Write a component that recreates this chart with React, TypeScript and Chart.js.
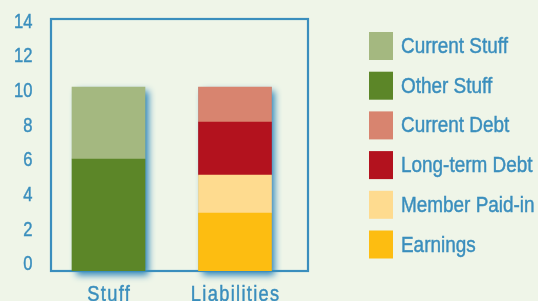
import { useEffect, useRef } from 'react';
import { Chart, registerables } from 'chart.js';

Chart.register(...registerables);

// ---- data ----
const categories = ['Stuff', 'Liabilities'];
const seriesNames = ['Current Stuff', 'Other Stuff', 'Current Debt', 'Long-term Debt', 'Member Paid-in', 'Earnings'];
const currentStuff = [4.0, null];
const otherStuff = [6.22, null];
const currentDebt = [null, 1.94];
const longTermDebt = [null, 2.95];
const memberPaidIn = [null, 2.11];
const earnings = [null, 3.22];
const yTicks = [0, 2, 4, 6, 8, 10, 12, 14];

// ---- styles ----
const seriesColors = ['#a4b880', '#5c8628', '#d8846f', '#b3121e', '#fedb8f', '#fdbd11'];
const stackOrder = [1, 0, 3, 2, 1, 0];
const BLUE = '#3a8ebd';
const BG = '#eff5e8';
const FAMILY = '"Liberation Sans", Arial, sans-serif';
const NARROW = 0.83; // horizontal squeeze to imitate a condensed face
const WEIGHT = 0.45; // extra stroke to imitate a medium weight

const seriesValues = [currentStuff, otherStuff, currentDebt, longTermDebt, memberPaidIn, earnings];

function heavyText(ctx: CanvasRenderingContext2D, text: string, x: number, y: number) {
  ctx.fillText(text, x, y);
  ctx.lineWidth = WEIGHT;
  ctx.strokeStyle = ctx.fillStyle as string;
  ctx.strokeText(text, x, y);
}

const boxAndShadowPlugin = {
  id: 'boxAndShadow',
  beforeDatasetsDraw(chart: any) {
    const ctx = chart.ctx;
    const groups = new Map<number, { l: number; r: number; t: number; b: number }>();
    chart.getSortedVisibleDatasetMetas().forEach((meta: any) => {
      meta.data.forEach((el: any) => {
        const { x, y, base, width } = el.getProps(['x', 'y', 'base', 'width'], true);
        if (!isFinite(y) || !isFinite(x)) return;
        const key = Math.round(x);
        const g = groups.get(key) || { l: x - width / 2, r: x + width / 2, t: Infinity, b: -Infinity };
        g.t = Math.min(g.t, y, base);
        g.b = Math.max(g.b, y, base);
        groups.set(key, g);
      });
    });
    ctx.save();
    ctx.shadowColor = 'rgba(40,130,185,1)';
    ctx.shadowBlur = 7;
    ctx.shadowOffsetX = 4;
    ctx.shadowOffsetY = 4;
    ctx.fillStyle = BLUE;
    groups.forEach((g) => {
      ctx.fillRect(g.l, g.t, g.r - g.l, g.b - g.t);
    });
    ctx.restore();
    const a = chart.chartArea;
    ctx.save();
    ctx.strokeStyle = BLUE;
    ctx.lineWidth = 2.2;
    ctx.strokeRect(a.left, a.top, a.right - a.left, a.bottom - a.top);
    ctx.restore();
  },
};

const labelsPlugin = {
  id: 'labelsAndLegend',
  afterDraw(chart: any) {
    const ctx = chart.ctx;
    const a = chart.chartArea;
    const xs = chart.scales.x;
    const yl = chart.scales.yl;

    // y tick labels (positions from the label scale)
    ctx.save();
    ctx.scale(NARROW, 1);
    ctx.font = `20px ${FAMILY}`;
    ctx.fillStyle = BLUE;
    ctx.textAlign = 'right';
    ctx.textBaseline = 'middle';
    yl.ticks.forEach((t: any) => {
      const text = t.label != null && t.label !== '' ? String(t.label) : String(t.value);
      heavyText(ctx, text, (a.left - 18.5) / NARROW, yl.getPixelForValue(t.value));
    });
    ctx.restore();

    // x category labels
    ctx.save();
    ctx.scale(NARROW, 1);
    ctx.font = `22px ${FAMILY}`;
    ctx.fillStyle = BLUE;
    ctx.textAlign = 'center';
    ctx.textBaseline = 'alphabetic';
    (ctx as any).letterSpacing = '1.6px';
    categories.forEach((c, i) => {
      heavyText(ctx, c, (xs.getPixelForValue(i) + 0.7) / NARROW, a.bottom + 29.75);
    });
    ctx.restore();

    // legend
    const bx = a.right + 61;
    const sx = 0.86;
    chart.data.datasets.forEach((ds: any, i: number) => {
      const by = a.top + 13 + i * 39.7;
      ctx.save();
      ctx.fillStyle = ds.backgroundColor;
      ctx.fillRect(bx, by, 24, 28);
      ctx.scale(sx, 1);
      ctx.font = `22px ${FAMILY}`;
      ctx.textAlign = 'left';
      ctx.textBaseline = 'middle';
      ctx.fillStyle = BLUE;
      heavyText(ctx, ds.label, (bx + 32) / sx, by + 15);
      ctx.restore();
    });
  },
};

export default function App() {
  const ref = useRef<HTMLCanvasElement | null>(null);
  useEffect(() => {
    if (!ref.current) return;
    const datasets = seriesNames.map((name, i) => ({
      label: name,
      data: categories
        .map((_, ci) => ({ x: ci, y: seriesValues[i][ci] }))
        .filter((p) => p.y !== null),
      backgroundColor: seriesColors[i],
      borderWidth: 0,
      order: stackOrder[i],
      barThickness: 73,
    }));
    const chart = new Chart(ref.current, {
      type: 'bar',
      data: { datasets } as any,
      options: {
        animation: false,
        responsive: false,
        events: [],
        layout: { padding: { top: 19, right: 230, bottom: 30, left: 0 } },
        plugins: { legend: { display: false }, tooltip: { enabled: false } },
        scales: {
          x: {
            type: 'linear',
            display: false,
            offset: false,
            grid: { offset: false },
            min: -0.4545,
            max: 1.5771,
            stacked: true,
          },
          y: {
            type: 'linear',
            display: false,
            stacked: true,
            min: 0,
            max: 14,
          },
          yl: {
            type: 'linear',
            position: 'left',
            display: true,
            min: -0.363,
            max: 14.173,
            grid: { display: false },
            border: { display: false },
            ticks: { display: false },
            afterBuildTicks: (s: any) => {
              s.ticks = yTicks.map((v) => ({ value: v }));
            },
            afterFit: (s: any) => {
              s.width = 51;
              s.paddingTop = 0;
              s.paddingBottom = 0;
            },
          },
        },
      } as any,
      plugins: [boxAndShadowPlugin, labelsPlugin],
    });
    return () => chart.destroy();
  }, []);
  return (
    <div style={{ position: 'fixed', left: 0, top: 0, width: 538, height: 301, background: BG, overflow: 'hidden' }}>
      <canvas ref={ref} width={538} height={301} style={{ display: 'block', width: 538, height: 301 }} />
    </div>
  );
}
